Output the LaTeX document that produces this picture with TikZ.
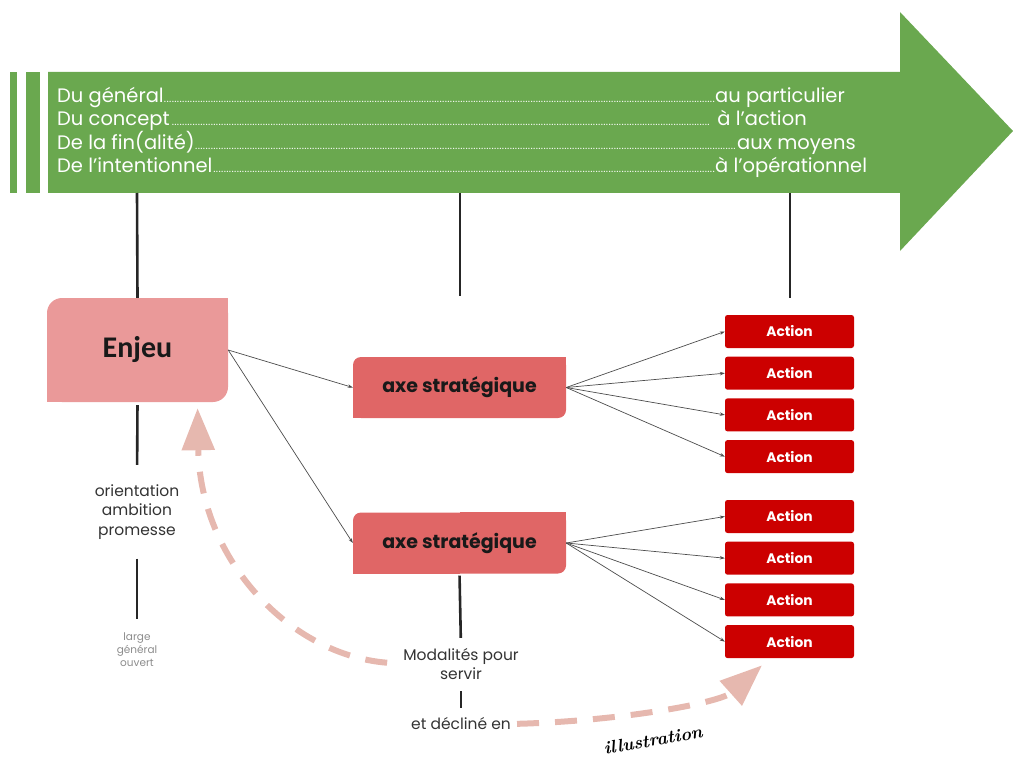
\documentclass[tikz,border=0pt]{standalone}
\usepackage{fontspec}
\setmainfont{Poppins}
\newfontfamily\calibri{Carlito}
\newfontfamily\handfont{Latin Modern Roman}
\usepackage{tikz}
\usetikzlibrary{arrows.meta,backgrounds}

\definecolor{bandgreen}{HTML}{6AA84F}
\definecolor{enjeupink}{HTML}{EA9999}
\definecolor{axered}{HTML}{E06666}
\definecolor{actionred}{HTML}{CC0000}
\definecolor{dashpink}{HTML}{E6B8AF}

% small dots between the two ends of a line
\newcommand{\dotrule}{\leaders\hbox to 2.6pt{\hss\scalebox{0.55}{.}\hss}\hfill}
% keep two corners of a box square
\newcommand{\squarecorners}[2]{%
  \begin{pgfonlayer}{background}
    \fill[#2] (#1.north) rectangle (#1.east);
    \fill[#2] (#1.west) rectangle (#1.south);
  \end{pgfonlayer}}

\begin{document}
\begin{tikzpicture}[x=1pt,y=-1pt,node distance=41.7pt]
  \tikzstyle{enjeubox}=[fill=enjeupink,rounded corners=15pt,minimum width=181pt,minimum height=104pt,inner sep=0pt,text=black!90,font=\calibri\bfseries\fontsize{30}{34}\selectfont]
  \tikzstyle{axebox}=[fill=axered,rounded corners=8pt,minimum width=213pt,minimum height=61pt,inner sep=0pt,text=black!90,font=\bfseries\fontsize{19}{22}\selectfont]
  \tikzstyle{actionbox}=[fill=actionred,rounded corners=2.5pt,minimum width=129pt,minimum height=33pt,inner sep=0pt,text=white,font=\bfseries\fontsize{13.8}{16}\selectfont]
  \tikzstyle{link}=[-{Stealth[length=5pt,width=3.5pt]},black!70,line width=0.7pt]
  \tikzstyle{stem}=[line width=2.6pt,black!85]
  \tikzstyle{swoosh}=[dashpink,line width=6pt,dash pattern=on 22pt off 16pt,-{Triangle[length=42pt,width=32pt]}]
  \tikzstyle{remark}=[align=center,inner sep=0pt,text=black!80,font=\fontsize{15.5}{19.5}\selectfont]
  \useasboundingbox (0,0) rectangle (1013,757);

  % green band
  \fill[bandgreen] (10,72) rectangle (17,193);
  \fill[bandgreen] (26,72) rectangle (40,193);
  \fill[bandgreen] (48,72) -- (900,72) -- (900,12) -- (1013,131) -- (900,251) -- (900,193) -- (48,193) -- cycle;
  \node[anchor=west,inner sep=0pt,align=left,text=white,font=\fontsize{19.5}{23}\selectfont] (motto) at (57,132.5)
    {\makebox[658pt][s]{Du général\dotrule}au particulier\\
     \makebox[655pt][s]{Du concept\dotrule}\ à l’action\\
     \makebox[680pt][s]{De la fin(alité)\dotrule}aux moyens\\
     \makebox[658pt][s]{De l’intentionnel\dotrule}à l’opérationnel};
  \coordinate (s1) at (137,193);
  \coordinate (s2) at (460,193);
  \coordinate (s3) at (790,193);
  \coordinate (e2) at (460,296);
  \coordinate (e3) at (790,298);

  % boxes
  \node[enjeubox] (enjeu) at (137.5,350) {Enjeu};
  \squarecorners{enjeu}{enjeupink}
  \node[axebox] (axe1) at (459.5,387.5) {axe stratégique};
  \squarecorners{axe1}{axered}
  \node[axebox] (axe2) at (459.5,543) {axe stratégique};
  \squarecorners{axe2}{axered}

  \node[actionbox] (act1) at (789.5,331.5) {Action};
  \node[actionbox, below of=act1] (act2) {Action};
  \node[actionbox, below of=act2] (act3) {Action};
  \node[actionbox, below of=act3] (act4) {Action};
  \node[actionbox] (act5) at (789.5,516.5) {Action};
  \node[actionbox, below of=act5] (act6) {Action};
  \node[actionbox, below of=act6] (act7) {Action};
  \node[actionbox, below of=act7] (act8) {Action};

  % texts
  \node[remark] (orient) at (137,512) {orientation\\ambition\\promesse};
  \node[remark,text=black!45,font=\fontsize{10.5}{13}\selectfont] (vague) at (137,650) {large\\général\\ouvert};
  \node[remark] (modal) at (461,664) {Modalités pour\\servir};
  \node[remark] (decline) at (461,724) {et décliné en};
  \node[rotate=10,inner sep=0pt,font=\handfont\bfseries\itshape\fontsize{18}{21}\selectfont] (illus) at (653,740) {illustration};

  % edges
  \draw[stem] (s1) -- (enjeu.north);
  \draw[stem] (s2) -- (e2);
  \draw[stem] (s3) -- (e3);
  \draw[stem,shorten <=3pt,shorten >=19.5pt] (enjeu.south) -- (orient.north);
  \draw[stem,shorten <=19pt,shorten >=14pt] (orient.south) -- (vague.north);
  \draw[stem,shorten <=2pt,shorten >=10pt] (axe2.south) -- (modal.north);
  \draw[stem,shorten <=11pt,shorten >=10pt] (modal.south) -- (decline.north);

  \draw[link] (enjeu.east) -- (axe1.west);
  \draw[link] (enjeu.east) -- (axe2.west);
  \draw[link] (axe1.east) -- (act1.west);
  \draw[link] (axe1.east) -- (act2.west);
  \draw[link] (axe1.east) -- (act3.west);
  \draw[link] (axe1.east) -- (act4.west);
  \draw[link] (axe2.east) -- (act5.west);
  \draw[link] (axe2.east) -- (act6.west);
  \draw[link] (axe2.east) -- (act7.west);
  \draw[link] (axe2.east) -- (act8.west);

  \draw[swoosh,shorten <=16pt,shorten >=6pt] (modal.west) .. controls (290,655) and (200,560) .. ([xshift=60pt]enjeu.south);
  \draw[swoosh,shorten <=6pt] (decline.east) .. controls (620,721) and (720,703) .. ([xshift=-27.5pt,yshift=-7pt]act8.south);

\end{tikzpicture}
\end{document}
